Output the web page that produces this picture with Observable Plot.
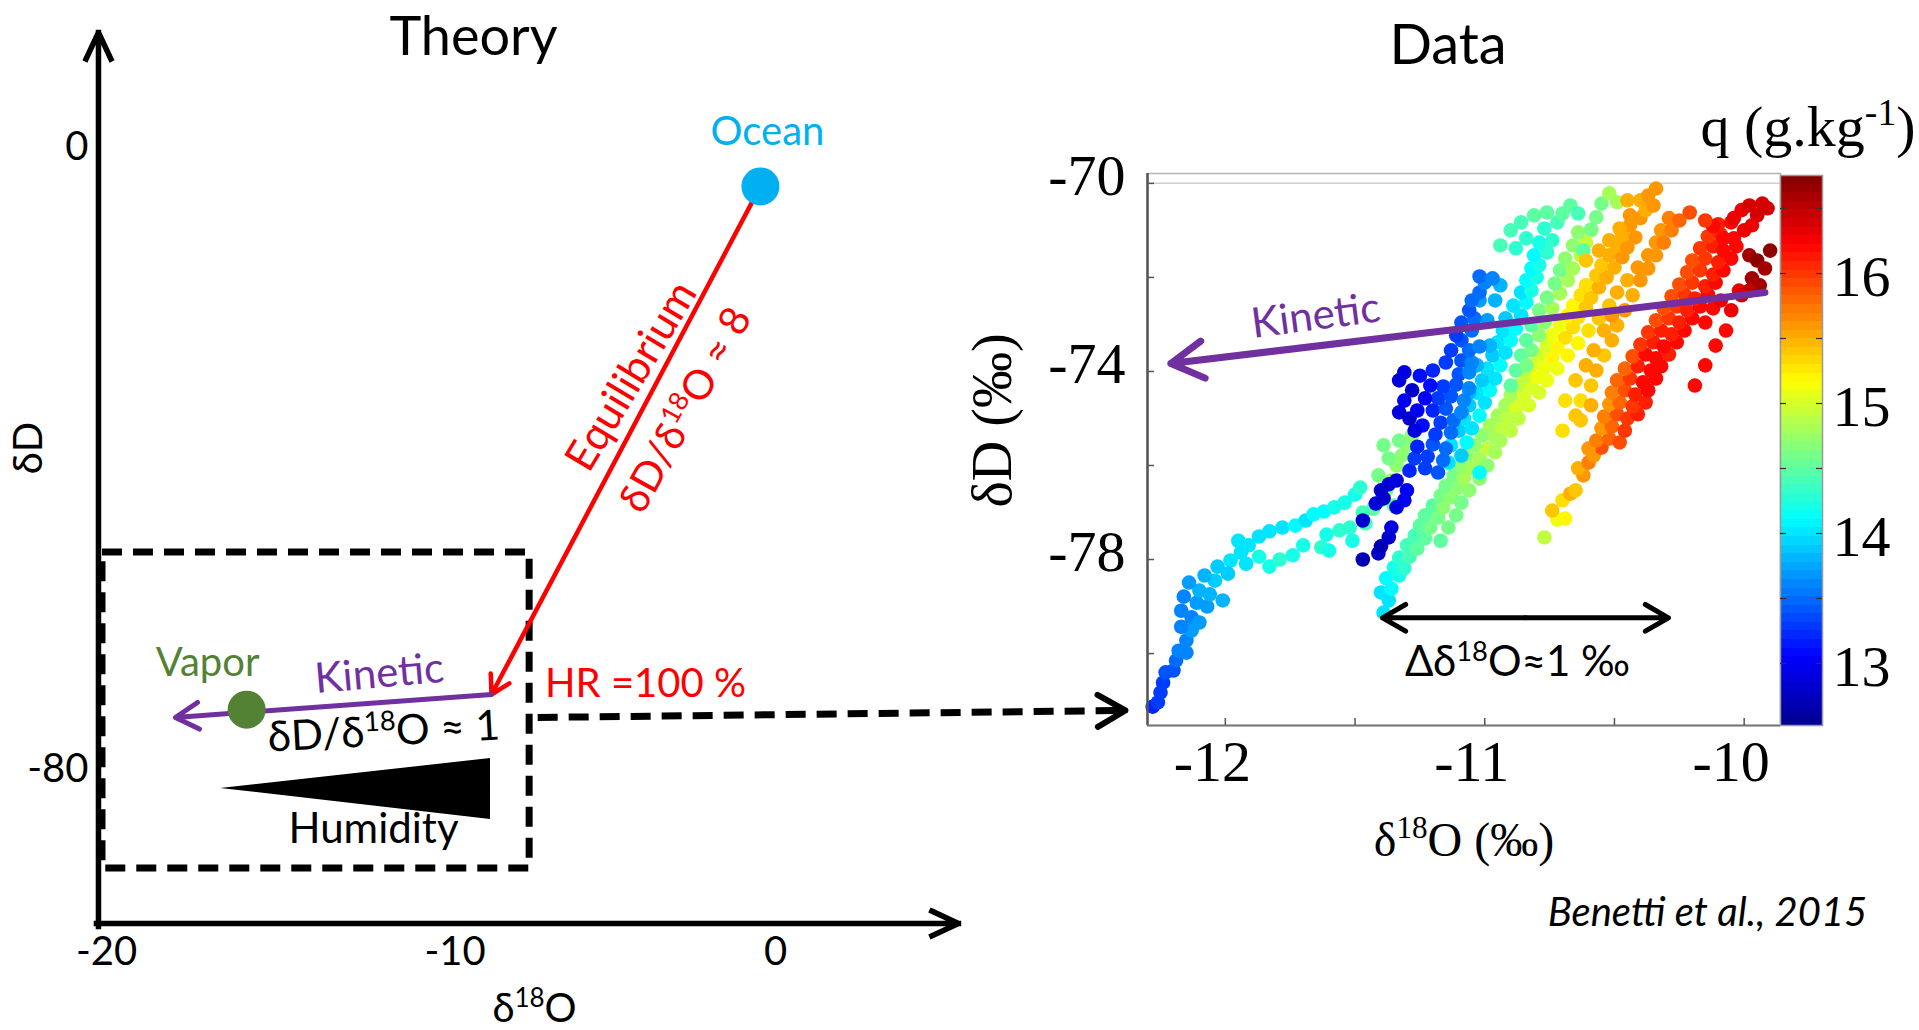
<!DOCTYPE html>
<html><head><meta charset="utf-8">
<script src="https://cdn.jsdelivr.net/npm/d3@7"></script>
<script src="https://cdn.jsdelivr.net/npm/@observablehq/plot@0.6"></script>
<style>
html,body{margin:0;padding:0;background:#fff;overflow:hidden;}
#chart{position:relative;width:1919px;height:1030px;background:#fff;}
</style></head><body><div id="chart"></div>
<script>
// ---------------- Theory panel (schematic) ----------------
const theoryTicksX = [-20, 0];
const theoryTicksXMid = [-10];
const theoryTicksY = [0, -80];
const ocean = {x: -0.45, y: -5, label: "Ocean"};
const saturation = {x: -8.49, y: -70.35, label: "HR =100 %"};
const vapor = {x: -15.81, y: -72.3, label: "Vapor"};
const kineticTip = {x: -17.94, y: -73.31};
const zoomBox = {x1: -20.12, x2: -7.35, y1: -92.73, y2: -52.09};
const humidityWedge = [{x: -16.59, y1: -82.44, y2: -82.44}, {x: -8.52, y1: -78.59, y2: -86.43}];
const zoomLink = {x1: -7.11, y1: -73.31, x2: 10.46, y2: -72.41};
const theoryAxes = [{x1: -20.24, y1: -100.2, x2: -20.24, y2: 14.8}, {x1: -20.3, y1: -99.8, x2: 5.47, y2: -99.8}];

// ---------------- Data panel (Benetti et al., 2015) ----------------
const dataTicksX = [-12, -11, -10];
const dataTicksXMinor = [-12, -11.5, -11, -10.5, -10];
const dataTicksY = [-70, -74, -78];
const dataTicksYMinor = [-70, -72, -74, -76, -78, -80];
const qTicks = [13, 14, 15, 16];
const qTicksMinor = [13, 13.5, 14, 14.5, 15, 15.5, 16, 16.5];
const qMin = 12.523, qMax = 16.754;
const kineticData = {x1: -9.92, y1: -72.32, x2: -12.21, y2: -73.83};
const spreadArrow = {xMid: -10.843, xLeft: -11.394, xRight: -10.292, y: -79.24};

// [δ18O, δD, q]
const bandTail = [[-12.28,-81.13,13.2],[-12.26,-81.04,13.3],[-12.25,-80.83,13.3],[-12.24,-80.62,13.3],[-12.23,-80.40,13.4],[-12.20,-80.36,13.4],[-12.19,-80.15,13.5],[-12.18,-79.94,13.6],[-12.15,-79.98,13.6],[-12.15,-79.72,13.6],[-12.13,-79.51,13.7],[-12.17,-79.43,13.6],[-12.13,-79.23,13.6],[-12.17,-79.09,13.6],[-12.10,-79.34,13.7],[-12.11,-78.92,13.7],[-12.07,-79.00,13.7],[-12.16,-78.79,13.6],[-12.10,-78.66,13.8],[-12.06,-78.74,13.8],[-12.14,-78.49,13.7],[-12.04,-78.45,13.9],[-12.08,-78.34,13.8],[-12.01,-78.87,13.8],[-12.03,-78.15,13.9],[-11.98,-78.02,14.0],[-11.99,-78.30,13.9],[-11.94,-77.85,14.0],[-11.91,-77.70,14.0],[-11.95,-77.60,14.0],[-11.92,-78.09,14.0],[-11.87,-77.51,14.0],[-11.83,-77.40,14.0],[-11.78,-77.32,14.0],[-11.73,-77.28,14.1],[-11.69,-77.17,14.0],[-11.66,-77.04,14.1],[-11.62,-76.98,14.1],[-11.58,-76.89,14.2],[-11.54,-76.79,14.2],[-11.50,-76.62,14.2],[-11.48,-76.47,14.3],
[-11.87,-77.94,14.2],[-11.83,-78.15,14.2],[-11.79,-78.00,14.3],[-11.74,-77.91,14.2],[-11.70,-77.70,14.2],[-11.63,-77.74,14.3],[-11.61,-77.47,14.2],[-11.56,-77.38,14.3],[-11.52,-77.32,14.3],[-11.60,-77.81,14.2],[-11.51,-77.60,14.2],[-11.46,-77.23,14.4],[-11.43,-76.92,14.5],[-11.47,-77.00,14.4],
[-11.40,-76.74,14.6],[-11.38,-76.53,14.6],[-11.36,-76.32,14.7],[-11.41,-76.21,14.6],[-11.34,-76.00,14.7],[-11.32,-75.79,14.7],[-11.37,-75.85,14.6],[-11.30,-75.57,14.7],[-11.33,-75.47,14.6],[-11.28,-75.36,14.7],[-11.39,-75.57,14.6],[-11.35,-76.85,14.5]];

const bandYellow = [[-11.39,-79.13,14.0],[-11.37,-78.87,14.0],[-11.40,-78.70,14.0],[-11.36,-78.62,14.1],[-11.38,-78.40,14.1],[-11.33,-78.34,14.2],[-11.35,-78.17,14.2],[-11.31,-78.19,14.3],[-11.33,-77.96,14.3],[-11.29,-77.94,14.4],[-11.30,-77.70,14.4],[-11.26,-77.77,14.5],[-11.27,-77.49,14.4],[-11.23,-77.55,14.5],[-11.25,-77.28,14.5],[-11.21,-77.32,14.6],[-11.23,-77.06,14.5],[-11.18,-77.11,14.6],[-11.20,-76.85,14.5],[-11.16,-76.89,14.7],[-11.17,-76.64,14.6],[-11.13,-76.68,14.7],[-11.15,-76.43,14.6],[-11.10,-76.47,14.7],[-11.12,-76.21,14.6],[-11.08,-76.26,14.8],[-11.09,-76.00,14.7],[-11.05,-76.06,14.8],[-11.07,-75.79,14.7],[-11.02,-75.85,14.8],[-11.04,-75.57,14.7],[-10.99,-75.64,14.9],[-11.01,-75.36,14.7],[-10.96,-75.40,14.8],[-10.98,-75.15,14.8],[-10.93,-75.19,14.9],[-10.95,-74.94,14.8],[-10.91,-74.98,14.9],[-10.92,-74.72,14.8],[-10.88,-74.77,15.0],[-10.90,-74.51,14.8],[-10.85,-74.55,15.0],[-10.87,-74.30,14.9],[-10.82,-74.34,15.0],[-10.84,-74.09,14.9],[-10.80,-74.13,15.1],[-10.82,-73.87,15.0],[-10.77,-73.91,15.1],[-10.79,-73.66,15.0],[-10.74,-73.70,15.2],[-10.76,-73.45,15.0],[-10.72,-73.49,15.2],[-10.74,-73.23,15.1],[-10.69,-73.28,15.3],[-10.71,-73.02,15.1],[-10.66,-73.06,15.3],[-10.68,-72.81,15.2],[-10.64,-72.85,15.3],[-10.66,-72.60,15.2],[-10.61,-72.64,15.4],[-10.63,-72.38,15.3],[-10.59,-72.43,15.4],[-10.61,-72.17,15.3],[-10.56,-72.21,15.5],[-10.57,-71.96,15.4],[-10.53,-72.00,15.5],[-10.55,-71.74,15.4],[-10.50,-71.79,15.5],[-10.52,-71.53,15.5],[-10.47,-71.57,15.6],[-10.49,-71.32,15.5],[-10.45,-71.36,15.6],[-10.47,-71.11,15.5],[-10.42,-71.15,15.6],[-10.44,-70.89,15.6],[-10.40,-70.74,15.6],[-10.38,-70.57,15.5],
[-10.94,-75.47,14.8],[-10.90,-75.26,14.9],[-10.96,-75.72,14.8],[-10.99,-76.00,14.7],[-11.02,-76.28,14.7],[-11.06,-76.53,14.7],[-11.09,-76.79,14.6],[-11.11,-77.06,14.6],[-11.14,-77.32,14.6],[-11.17,-77.60,14.5],[-10.87,-75.00,14.9],[-10.83,-74.72,15.0],[-10.79,-74.45,15.0],[-10.76,-74.19,15.1],[-10.72,-73.94,15.1],[-10.68,-73.66,15.2],[-10.64,-73.40,15.2],[-10.60,-73.13,15.3],[-10.56,-72.87,15.4],[-10.52,-72.60,15.4],[-10.49,-72.32,15.5],[-10.45,-72.06,15.5],[-10.41,-71.79,15.6],[-10.37,-71.53,15.6],[-10.34,-71.26,15.6],[-10.32,-71.00,15.6],[-10.29,-70.74,15.7]];

const bandGreen = [[-10.86,-73.66,14.5],[-10.82,-73.55,14.6],[-10.84,-73.34,14.5],[-10.79,-73.23,14.7],[-10.82,-73.02,14.5],[-10.77,-72.96,14.7],[-10.79,-72.70,14.6],[-10.74,-72.66,14.8],[-10.76,-72.43,14.6],[-10.71,-72.34,14.8],[-10.73,-72.13,14.6],[-10.68,-72.06,14.8],[-10.71,-71.85,14.6],[-10.66,-71.81,14.8],[-10.69,-71.60,14.7],[-10.63,-71.53,14.9],[-10.66,-71.32,14.7],[-10.61,-71.26,14.9],[-10.64,-71.04,14.7],[-10.59,-71.00,14.9],[-10.88,-73.98,14.5],[-10.90,-74.30,14.5],[-10.84,-73.87,14.6]];

const bandCyan = [[-11.14,-75.94,14.0],[-11.09,-75.79,13.9],[-11.13,-75.57,14.0],[-11.07,-75.51,14.1],[-11.10,-75.26,13.9],[-11.05,-75.21,14.0],[-11.08,-75.00,14.0],[-11.02,-74.94,14.1],[-11.06,-74.72,13.9],[-11.00,-74.66,14.0],[-11.03,-74.45,14.0],[-10.98,-74.40,14.1],[-11.01,-74.19,13.9],[-10.96,-74.15,14.0],[-10.99,-73.94,14.0],[-10.94,-73.87,14.1],[-10.97,-73.66,13.9],[-10.92,-73.60,14.0],[-10.95,-73.38,14.0],[-10.90,-73.34,14.1],[-10.93,-73.13,14.0],[-10.88,-73.09,14.1],[-10.92,-72.87,13.9],[-10.86,-72.81,14.0],[-10.89,-72.60,14.0],[-10.84,-72.53,14.1],[-10.86,-72.32,14.0],[-10.82,-72.28,14.2],[-10.84,-72.06,14.1],[-10.80,-72.00,14.2],[-10.82,-71.81,14.1],[-10.79,-71.74,14.2],[-10.81,-71.53,14.1],[-10.76,-71.47,14.3],[-10.79,-71.26,14.2],[-10.74,-71.21,14.3],
[-11.02,-72.49,13.7],[-10.99,-72.91,13.7],[-10.96,-72.49,13.8],[-10.94,-72.17,13.8],[-10.98,-73.45,13.8],[-11.03,-73.87,13.8],[-11.06,-74.45,13.8],
[-10.90,-71.00,14.4],[-10.86,-70.83,14.4],[-10.81,-70.68,14.5],[-10.76,-70.62,14.5],[-10.72,-70.83,14.4],[-10.70,-70.64,14.5],[-10.67,-70.47,14.5],[-10.64,-70.64,14.4],[-10.77,-70.96,14.3],[-10.84,-71.17,14.3],[-10.94,-71.32,14.4],[-10.88,-71.38,14.3],
[-10.62,-71.43,14.5],[-10.59,-70.98,14.6],[-10.57,-70.72,14.6],[-10.55,-70.43,14.6],[-10.52,-70.21,14.8],[-10.49,-70.40,14.8],[-11.02,-76.15,14.1]];

const bandBlue = [[-11.29,-76.11,13.2],[-11.23,-76.06,13.3],[-11.18,-76.15,13.4],[-11.27,-75.85,13.3],[-11.22,-75.81,13.3],[-11.16,-75.89,13.5],[-11.26,-75.60,13.2],[-11.20,-75.55,13.4],[-11.15,-75.64,13.5],[-11.19,-75.34,13.3],[-11.13,-75.30,13.5],[-11.17,-75.09,13.3],[-11.12,-75.04,13.5],[-11.20,-74.83,13.2],[-11.15,-74.79,13.4],[-11.09,-74.87,13.6],[-11.18,-74.57,13.3],[-11.13,-74.53,13.4],[-11.08,-74.62,13.6],[-11.16,-74.32,13.3],[-11.11,-74.28,13.4],[-11.06,-74.36,13.6],[-11.15,-73.81,13.3],[-11.10,-74.06,13.4],[-11.06,-74.02,13.6],[-11.13,-73.55,13.3],[-11.09,-73.77,13.4],[-11.05,-73.81,13.6],[-11.09,-73.34,13.4],[-11.06,-73.55,13.5],[-11.02,-73.47,13.6],[-11.11,-73.23,13.3],[-11.05,-73.13,13.5],[-11.09,-72.96,13.4],[-11.04,-72.87,13.5],[-11.06,-72.70,13.4],[-11.05,-72.49,13.5],[-11.02,-72.32,13.5],[-11.00,-72.11,13.6],[-11.02,-71.98,13.5],[-10.97,-72.02,13.6]];

const bandDarkBlue = [[-11.47,-78.00,12.7],[-11.41,-77.87,12.8],[-11.40,-77.72,12.7],[-11.37,-77.53,12.8],[-11.36,-77.32,12.9],[-11.47,-77.17,12.8],[-11.42,-76.81,12.9],[-11.39,-76.70,12.8],[-11.34,-76.89,12.9],[-11.31,-76.74,13.0],[-11.30,-76.53,13.0],[-11.37,-76.40,12.9],[-11.34,-76.32,12.9],[-11.40,-76.53,12.8],
[-11.33,-74.19,12.9],[-11.31,-74.02,12.9],[-11.28,-74.40,12.8],[-11.31,-74.62,13.0],[-11.33,-74.87,12.9],[-11.29,-75.00,12.8],[-11.26,-74.83,13.0],[-11.24,-75.15,13.1],[-11.27,-75.26,12.9],[-11.23,-74.57,13.0],[-11.25,-74.09,13.1],[-11.21,-74.30,13.1],[-11.20,-73.98,13.2]];

const bandOrange = [[-10.70,-75.26,15.3],[-10.65,-74.94,15.4],[-10.63,-74.62,15.3],[-10.59,-74.30,15.4],[-10.57,-73.98,15.5],[-10.54,-73.66,15.4],[-10.51,-73.34,15.5],[-10.49,-73.02,15.5],[-10.46,-72.70,15.6],[-10.43,-72.38,15.5],[-10.40,-72.06,15.6],[-10.37,-71.81,15.6],[-10.34,-71.53,15.6],[-10.31,-71.26,15.7],[-10.28,-71.00,15.7],[-10.25,-70.79,15.8],[-10.21,-70.62,15.9],
[-10.61,-71.64,15.4],[-10.56,-71.43,15.5],[-10.52,-71.21,15.5],[-10.48,-70.96,15.5],[-10.44,-70.68,15.6],[-10.40,-70.36,15.5],[-10.37,-70.26,15.6],[-10.34,-70.11,15.6],[-10.35,-70.47,15.6],[-10.45,-70.36,15.5],
[-10.65,-74.19,15.4],[-10.61,-73.87,15.5],[-10.69,-74.62,15.3],[-10.58,-73.55,15.5],[-10.63,-75.04,15.4],[-10.59,-74.72,15.5],[-10.54,-73.13,15.5],[-10.51,-72.81,15.6]];

const bandRed = [[-10.77,-77.53,14.9],[-10.72,-77.15,15.1],[-10.69,-77.13,15.2],[-10.74,-76.96,15.4],[-10.70,-76.74,15.3],[-10.67,-76.60,15.5],[-10.65,-76.53,15.4],[-10.62,-76.21,15.6],[-10.64,-76.06,15.5],[-10.60,-75.94,15.7],[-10.58,-75.79,15.6],[-10.55,-75.62,15.9],[-10.60,-75.64,15.6],
[-10.57,-75.47,15.7],[-10.52,-75.43,15.8],[-10.48,-75.51,15.9],
[-10.55,-75.21,15.6],[-10.51,-75.17,15.8],[-10.46,-75.26,16.0],
[-10.54,-74.96,15.7],[-10.49,-74.91,15.9],[-10.45,-75.00,16.0],[-10.41,-74.91,16.1],
[-10.52,-74.70,15.6],[-10.48,-74.66,15.8],[-10.43,-74.74,16.0],[-10.38,-74.66,16.1],
[-10.51,-74.45,15.7],[-10.46,-74.40,15.9],[-10.42,-74.49,16.1],[-10.37,-74.40,16.2],
[-10.49,-74.19,15.8],[-10.44,-74.15,16.0],[-10.39,-74.23,16.2],[-10.34,-74.15,16.2],
[-10.46,-73.94,15.8],[-10.41,-73.89,16.1],[-10.36,-73.98,16.2],[-10.32,-73.89,16.2],
[-10.43,-73.68,15.9],[-10.38,-73.64,16.2],[-10.34,-73.72,16.2],[-10.29,-73.64,16.1],
[-10.40,-73.43,16.0],[-10.35,-73.38,16.1],[-10.31,-73.47,16.2],[-10.26,-73.38,16.2],
[-10.37,-73.17,16.0],[-10.32,-73.13,16.1],[-10.28,-73.21,16.1],[-10.23,-73.13,16.2],
[-10.34,-72.91,15.9],[-10.29,-72.87,16.0],[-10.25,-72.96,16.1],[-10.20,-72.87,16.2],[-10.15,-72.96,16.2],
[-10.31,-72.66,15.9],[-10.26,-72.62,16.0],[-10.22,-72.70,16.1],[-10.17,-72.62,16.2],[-10.12,-72.66,16.2],
[-10.28,-72.40,15.9],[-10.23,-72.36,16.0],[-10.19,-72.45,16.1],[-10.14,-72.36,16.2],[-10.09,-72.49,16.3],
[-10.25,-72.15,15.9],[-10.20,-72.11,16.0],[-10.15,-72.19,16.1],[-10.11,-72.11,16.2],
[-10.22,-71.89,15.9],[-10.17,-71.85,16.0],[-10.12,-71.94,16.1],[-10.08,-71.85,16.2],
[-10.20,-71.64,15.9],[-10.15,-71.60,16.0],[-10.10,-71.68,16.1],[-10.05,-71.60,16.2],
[-10.17,-71.38,16.0],[-10.12,-71.34,16.1],[-10.08,-71.43,16.2],[-10.03,-71.34,16.2],
[-10.14,-71.13,16.0],[-10.09,-71.09,16.1],[-10.04,-71.17,16.2],
[-10.10,-70.87,16.1],[-10.05,-70.83,16.2],
[-10.12,-70.91,16.2],[-10.08,-71.17,16.2],[-10.15,-70.79,16.0],
[-10.05,-72.70,16.3],[-10.07,-73.13,16.2],[-10.11,-73.45,16.2],[-10.15,-73.87,16.2],[-10.19,-74.30,16.2],[-10.02,-72.28,16.3],
[-10.04,-70.74,16.3],[-10.01,-70.57,16.3],[-9.98,-70.47,16.4],[-9.95,-70.68,16.4],[-9.93,-70.43,16.4],[-9.91,-70.53,16.4],[-9.97,-70.89,16.3],[-10.00,-71.00,16.3],
[-9.98,-71.53,16.6],[-9.95,-71.64,16.7],[-9.90,-71.43,16.7],[-9.92,-71.81,16.6],[-9.97,-72.02,16.6],[-9.94,-72.17,16.6],[-9.98,-72.28,16.5],[-10.01,-72.38,16.4]];

const samples = [bandTail, bandYellow, bandGreen, bandCyan, bandBlue, bandDarkBlue, bandOrange, bandRed]
  .flat().map(([d18O, dD, q]) => ({d18O, dD, q}));

// ---------------- styles ----------------
const serif = "Liberation Serif";
const sans = "Lato";
const purple = "#7030a0";
const svgStyle = {background: "transparent", position: "absolute", left: "0px", top: "0px", maxWidth: "none", overflow: "visible", fontFamily: sans};
const jetStops = [0, 0.125, 0.375, 0.625, 0.875, 1];
const colorScale = {type: "linear", domain: jetStops.map(t => qMin + t * (qMax - qMin)),
  range: ["#00008f", "#0000ff", "#00ffff", "#ffff00", "#ff0000", "#800000"], interpolate: "rgb"};
const fmt = d => String(d);

// ---------------- Theory plot ----------------
const theory = Plot.plot({
  width: 1919, height: 1030,
  marginLeft: 98, marginRight: 961, marginTop: 32, marginBottom: 107,
  style: svgStyle,
  x: {domain: [-20, 0], range: [106, 775]},
  y: {domain: [-80, 0], range: [769, 147]},
  marks: [
    Plot.rect([zoomBox], {x1: "x1", x2: "x2", y1: "y1", y2: "y2", fill: "none", stroke: "black", strokeWidth: 7, strokeDasharray: "20,11"}),
    Plot.link([zoomLink], {x1: "x1", y1: "y1", x2: "x2", y2: "y2", stroke: "black", strokeWidth: 7, strokeDasharray: "20,11"}),
    Plot.arrow([zoomLink], {x1: "x1", y1: "y1", x2: "x2", y2: "y2", stroke: "black", strokeWidth: 6, insetStart: 575, headAngle: 60, strokeLinecap: "round", strokeLinejoin: "round"}),
    Plot.arrow(theoryAxes, {x1: "x1", y1: "y1", x2: "x2", y2: "y2", stroke: "black", strokeWidth: 5.5, headAngle: 50, strokeLinecap: "square"}),
    Plot.axisX({ticks: theoryTicksX, tickSize: 0, tickPadding: 13, fontSize: 40, tickFormat: fmt, label: null}),
    Plot.axisX({ticks: theoryTicksXMid, tickSize: 0, tickPadding: 13, dx: 14, fontSize: 40, tickFormat: fmt, label: null}),
    Plot.axisY({ticks: theoryTicksY, tickSize: 0, tickPadding: 10, fontSize: 40, tickFormat: fmt, label: null}),
    Plot.areaY(humidityWedge, {x: "x", y1: "y1", y2: "y2", fill: "black"}),
    Plot.arrow([{x1: ocean.x, y1: ocean.y, x2: saturation.x, y2: saturation.y}], {x1: "x1", y1: "y1", x2: "x2", y2: "y2", stroke: "#ff0000", strokeWidth: 4.5, headLength: 7, insetStart: 19, strokeLinecap: "round"}),
    Plot.arrow([{x1: saturation.x, y1: saturation.y, x2: kineticTip.x, y2: kineticTip.y}], {x1: "x1", y1: "y1", x2: "x2", y2: "y2", stroke: purple, strokeWidth: 5, strokeLinecap: "round"}),
    Plot.dot([ocean], {x: "x", y: "y", r: 19, fill: "#00b0f0"}),
    Plot.dot([vapor], {x: "x", y: "y", r: 19, fill: "#548235"}),
    Plot.text([ocean], {x: "x", y: "y", text: "label", dx: 7, dy: -41, fontSize: 40, fill: "#00b0f0", lineAnchor: "bottom"}),
    Plot.text([vapor], {x: "x", y: "y", text: "label", dx: -39, dy: -34, fontSize: 40, fill: "#548235", lineAnchor: "bottom"}),
    Plot.text([saturation], {x: "x", y: "y", text: "label", dx: 154, dy: 3, fontSize: 40, fill: "#ff0000", lineAnchor: "bottom"}),
    Plot.text([saturation], {x: "x", y: "y", text: () => "Kinetic", dx: -111, dy: -7, rotate: -5, fontSize: 42, fill: purple, lineAnchor: "bottom"}),
    Plot.text([saturation], {x: "x", y: "y", text: () => "δD/δ^{18}O ≈ 1", dx: -107, dy: 51, rotate: -3, fontSize: 42, fill: "black", lineAnchor: "bottom"}),
    Plot.text([saturation], {x: "x", y: "y", text: () => "Humidity", dx: -118, dy: 149, fontSize: 42, fill: "black", lineAnchor: "bottom"}),
    Plot.text([ocean], {x: "x", y: "y", text: () => "Equilibrium", dx: -117, dy: 197, rotate: -59, fontSize: 43, fill: "#ff0000", lineAnchor: "bottom"}),
    Plot.text([ocean], {x: "x", y: "y", text: () => "δD/δ^{18}O ≈ 8", dx: -63, dy: 230, rotate: -61, fontSize: 41, fill: "#ff0000", lineAnchor: "bottom"}),
    Plot.text(["Theory"], {frameAnchor: "top", text: d => d, textAnchor: "middle", dx: -55, dy: 22, fontSize: 54, lineAnchor: "bottom"}),
    Plot.text(["δD"], {frameAnchor: "left", text: d => d, textAnchor: "middle", dx: -57, dy: -30, rotate: -90, fontSize: 40, lineAnchor: "bottom"}),
    Plot.text(["δ^{18}O"], {frameAnchor: "bottom", text: d => d, textAnchor: "middle", dx: 6, dy: 98, fontSize: 40, lineAnchor: "bottom"})
  ]
});

// ---------------- Data plot ----------------
const data = Plot.plot({
  width: 1919, height: 1030,
  marginLeft: 1147, marginRight: 139, marginTop: 173, marginBottom: 305,
  style: svgStyle,
  x: {domain: [-12.30, -9.86]},
  y: {domain: [-81.53, -69.79]},
  color: colorScale,
  marks: [
    Plot.frame({stroke: "#b4b4b4", strokeWidth: 1.5}),
    Plot.ruleY([dataTicksY[0]], {stroke: "#cfcfcf", strokeWidth: 1.5}),
    Plot.dot(samples, {x: "d18O", y: "dD", fill: "q", r: 7.3}),
    Plot.ruleX([-12.30], {stroke: "#555", strokeWidth: 2.5}),
    Plot.ruleY([-81.53], {stroke: "#777", strokeWidth: 2}),
    Plot.tickY(dataTicksYMinor, {y: d => d, insetRight: 626, stroke: "#555", strokeWidth: 1.5}),
    Plot.tickX(dataTicksXMinor, {x: d => d, insetTop: 545, stroke: "#555", strokeWidth: 1.5}),
    Plot.axisY({ticks: dataTicksY, tickSize: 0, tickPadding: 22, dy: -7, fontSize: 58, fontFamily: serif, tickFormat: fmt, label: null}),
    Plot.axisX({ticks: dataTicksX, tickSize: 0, tickPadding: 14, dx: -13, fontSize: 58, fontFamily: serif, tickFormat: fmt, label: null}),
    Plot.arrow([kineticData], {x1: "x1", y1: "y1", x2: "x2", y2: "y2", stroke: purple, strokeWidth: 7, strokeLinecap: "round", strokeLinejoin: "round"}),
    Plot.arrow([spreadArrow], {x1: "xMid", y1: "y", x2: "xLeft", y2: "y", stroke: "black", strokeWidth: 5, strokeLinecap: "round"}),
    Plot.arrow([spreadArrow], {x1: "xMid", y1: "y", x2: "xRight", y2: "y", stroke: "black", strokeWidth: 5, strokeLinecap: "round"}),
    Plot.text([{x: -11.645, y: -73.11}], {x: "x", y: "y", text: () => "Kinetic", rotate: -7.5, fontSize: 42, fill: purple, lineAnchor: "bottom"}),
    Plot.text([{x: -10.874, y: -80.47}], {x: "x", y: "y", text: () => "Δδ^{18}O≈1 ‰", fontSize: 42, fill: "black", lineAnchor: "bottom"}),
    Plot.text(["Data"], {frameAnchor: "top", text: d => d, textAnchor: "middle", dx: -16, dy: -110, fontSize: 56, lineAnchor: "bottom"}),
    Plot.text(["q (g.kg^{-1})"], {frameAnchor: "top-right", text: d => d, dx: -80, dy: -28, fontSize: 58, fontFamily: serif, textAnchor: "start", lineAnchor: "bottom"}),
    Plot.text(["δD (‰)"], {frameAnchor: "left", text: d => d, textAnchor: "middle", dx: -137, dy: -29, rotate: -90, fontSize: 56, fontFamily: serif, lineAnchor: "bottom"}),
    Plot.text(["δ^{18}O (‰)"], {frameAnchor: "bottom", text: d => d, textAnchor: "middle", dx: 0, dy: 130, fontSize: 48, fontFamily: serif, lineAnchor: "bottom"}),
    Plot.text(["Benetti et al., 2015"], {frameAnchor: "bottom-right", text: d => d, textAnchor: "middle", dx: -73, dy: 200, fontSize: 40, fontStyle: "italic", lineAnchor: "bottom"})
  ]
});

// ---------------- Colorbar ----------------
const cbLevels = d3.range(64).map(i => ({lo: qMin + i * (qMax - qMin) / 64, hi: qMin + (i + 1) * (qMax - qMin) / 64}));
const colorbar = Plot.plot({
  width: 1919, height: 1030,
  marginLeft: 1780, marginRight: 97, marginTop: 175, marginBottom: 305,
  style: svgStyle,
  y: {domain: [qMin, qMax]},
  color: colorScale,
  marks: [
    Plot.rect(cbLevels, {y1: "lo", y2: "hi", fill: d => (d.lo + d.hi) / 2, shapeRendering: "crispEdges"}),
    Plot.frame({stroke: "#999", strokeWidth: 1.5}),
    Plot.tickY(qTicksMinor, {y: d => d, insetRight: 36, stroke: "#333", strokeWidth: 1.2}),
    Plot.tickY(qTicksMinor, {y: d => d, insetLeft: 36, stroke: "#333", strokeWidth: 1.2}),
    Plot.axisY({anchor: "right", ticks: qTicks, tickSize: 0, tickPadding: 10, dy: 4, fontSize: 58, fontFamily: serif, tickFormat: fmt, label: null})
  ]
});

// superscript markup ^{...} -> tspans
function supify(svg) {
  svg.querySelectorAll("text").forEach(t => {
    const s = t.textContent;
    if (!s.includes("^{")) return;
    while (t.firstChild) t.removeChild(t.firstChild);
    const re = /\^\{([^}]*)\}/g;
    let last = 0, m, prevSup = false;
    const add = (str, sup) => {
      const ts = document.createElementNS("http://www.w3.org/2000/svg", "tspan");
      ts.textContent = str;
      if (sup) { ts.setAttribute("font-size", "65%"); ts.setAttribute("dy", "-0.55em"); }
      else if (prevSup) ts.setAttribute("dy", "0.36em");
      prevSup = sup;
      t.appendChild(ts);
    };
    while ((m = re.exec(s))) {
      if (m.index > last) add(s.slice(last, m.index), false);
      add(m[1], true);
      last = re.lastIndex;
    }
    if (last < s.length) add(s.slice(last), false);
  });
}

const chart = document.getElementById("chart");
for (const svg of [data, colorbar, theory]) { supify(svg); chart.appendChild(svg); }
</script></body></html>
